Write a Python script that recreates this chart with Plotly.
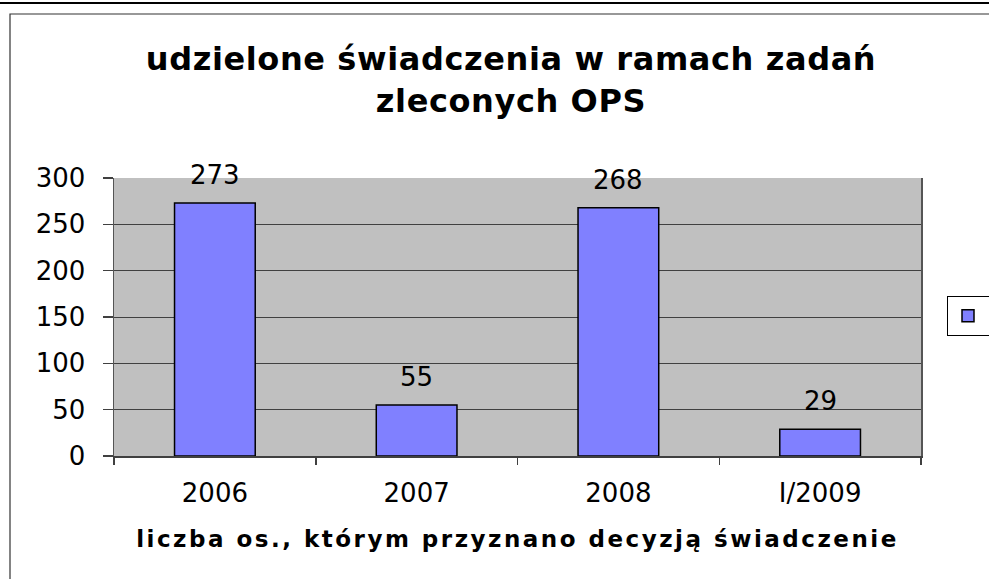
import plotly.graph_objects as go

categories = ["2006", "2007", "2008", "I/2009"]
values = [273, 55, 268, 29]
y_ticks = [0, 50, 100, 150, 200, 250, 300]
title_text = "udzielone świadczenia w ramach zadań<br>zleconych OPS"
x_title = "liczba os., którym przyznano decyzją świadczenie"

W, H = 989, 579
L, R, T, B = 114, 68, 178, 123
pw, ph = W - L - R, H - T - B


def px_x(p):
    return (p - L) / pw


def px_y(p):
    return (H - B - p) / ph


reg = "DejaVu Sans, Arial, sans-serif"
bold = "DejaVu Sans, Arial, sans-serif"

fig = go.Figure()
fig.add_trace(go.Bar(
    x=categories, y=values, name=" ",
    marker=dict(color="#8080FF", line=dict(color="black", width=1.5)),
    showlegend=True,
))

for i, v in enumerate(values):
    fig.add_annotation(x=i, y=v, text=str(v), showarrow=False,
                       yanchor="middle", yshift=28,
                       font=dict(family=reg, size=26, color="black"))

fig.update_layout(
    width=W, height=H,
    margin=dict(l=L, r=R, t=T, b=B, autoexpand=False),
    paper_bgcolor="white",
    plot_bgcolor="#C0C0C0",
    bargap=0.6,
    showlegend=True,
    title=dict(text="<b>" + title_text + "</b>", xref="container", yref="container",
               x=511 / W, xanchor="center", y=1 - 70 / H, yanchor="middle",
               font=dict(family=bold, size=32, color="black")),
    legend=dict(x=px_x(947), xanchor="left", y=px_y(316), yanchor="middle",
                bgcolor="white", bordercolor="black", borderwidth=1,
                font=dict(family=reg, size=19, color="black")),
    xaxis=dict(
        type="category", range=[-0.5, len(categories) - 0.5],
        categoryorder="array", categoryarray=categories,
        showline=True, linecolor="#404040", linewidth=1.5,
        ticks="outside", tickson="boundaries", ticklen=7, tickcolor="#404040", tickwidth=1.5,
        tickfont=dict(family=reg, size=26, color="black"),
        tickangle=0,
        ticklabelstandoff=13,
        title=dict(text="<b>" + x_title + "</b>", standoff=24,
                   font=dict(family=bold, size=23, color="black")),
        showgrid=False,
    ),
    yaxis=dict(
        range=[0, 300], tickvals=y_ticks,
        showline=True, linecolor="#555555", linewidth=1.5, mirror=True,
        ticks="outside", ticklen=10, tickcolor="#404040", tickwidth=1.5,
        tickfont=dict(family=reg, size=26, color="black"),
        ticklabelstandoff=12,
        showgrid=True, gridcolor="#404040", gridwidth=1,
        zeroline=False,
    ),
)

# outer chart frame and top rule
fig.add_shape(type="line", xref="paper", yref="paper",
              x0=px_x(-5), x1=px_x(W + 5), y0=px_y(3), y1=px_y(3),
              line=dict(color="black", width=2))
fig.add_shape(type="rect", xref="paper", yref="paper",
              x0=px_x(10), x1=px_x(W + 20), y0=px_y(14), y1=px_y(H + 20),
              line=dict(color="#333333", width=1.2))

post = (
    "document.body.style.margin='0';"
    "document.body.style.overflow='hidden';"
    "var t=document.querySelector('.xtitle'); if(t){t.style.letterSpacing='2.5px';}"
    "var g=document.querySelector('.gtitle'); if(g){g.style.letterSpacing='0.6px';}"
)

fig.write_html("out.html", post_script=post,
               config={"displayModeBar": False, "staticPlot": True})
